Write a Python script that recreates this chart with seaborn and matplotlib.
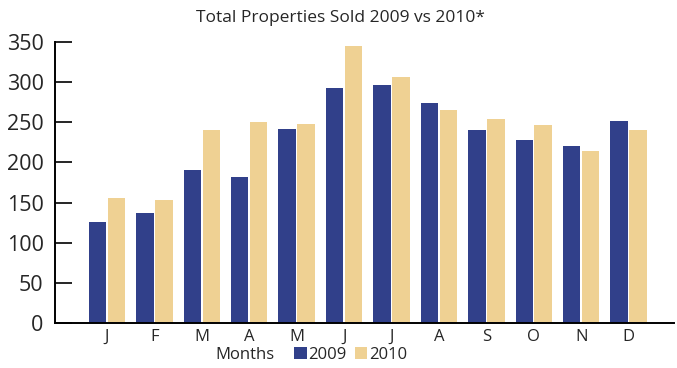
import matplotlib
matplotlib.use("Agg")
import matplotlib.pyplot as plt
import seaborn as sns
import pandas as pd

months = ["J", "F", "M", "A", "M", "J", "J", "A", "S", "O", "N", "D"]
sales_2009 = [126, 137, 191, 182, 242, 293, 296, 274, 241, 228, 220, 251]
sales_2010 = [156, 153, 241, 250, 248, 345, 306, 265, 254, 247, 214, 241]
years = ["2009", "2010"]
colors = ["#31408a", "#efd193"]

pos = list(range(len(months)))
df = pd.DataFrame({
    "pos": pos * 2,
    "value": sales_2009 + sales_2010,
    "year": [years[0]] * 12 + [years[1]] * 12,
})

sns.set_theme(style="white")
plt.rcParams["font.family"] = ["Open Sans", "DejaVu Sans"]

fig = plt.figure(figsize=(6.77, 3.68), dpi=100)
ax = fig.add_axes([0.081, 0.122, 0.914, 0.764])

sns.barplot(data=df, x="pos", y="value", hue="year", palette=colors,
            width=0.8, gap=0.08, ax=ax, saturation=1, legend=True, linewidth=0)

ax.set_ylim(0, 350)
ax.set_yticks(range(0, 351, 50))
ax.set_xlim(-1.1, 11.95)
ax.set_xticks(pos)
ax.set_xticklabels(months)
ax.set_xlabel("")
ax.set_ylabel("")
ax.tick_params(axis="y", direction="in", length=12, width=1.2, color="black",
               labelsize=15.5, pad=8, left=True)
ax.tick_params(axis="x", length=0, labelsize=12, pad=4)
for s in ["top", "right"]:
    ax.spines[s].set_visible(False)
for s in ["left", "bottom"]:
    ax.spines[s].set_color("black")
    ax.spines[s].set_linewidth(1.4)

fig.text(340 / 677, 1 - 18 / 368, "Total Properties Sold 2009 vs 2010*",
         ha="center", va="center", fontsize=12.5)
fig.text(245 / 677, 1 - 355 / 368, "Months", ha="center", va="center", fontsize=12)

handles, labels = ax.get_legend_handles_labels()
ax.legend(handles, labels, loc="center left", bbox_to_anchor=(294 / 677, 1 - 355 / 368),
          bbox_transform=fig.transFigure, ncol=2, frameon=False,
          handlelength=0.75, handleheight=0.75, handletextpad=0.1,
          columnspacing=0.5, borderpad=0, borderaxespad=0, fontsize=12)

fig.savefig("out.png", dpi=100, facecolor="white")
